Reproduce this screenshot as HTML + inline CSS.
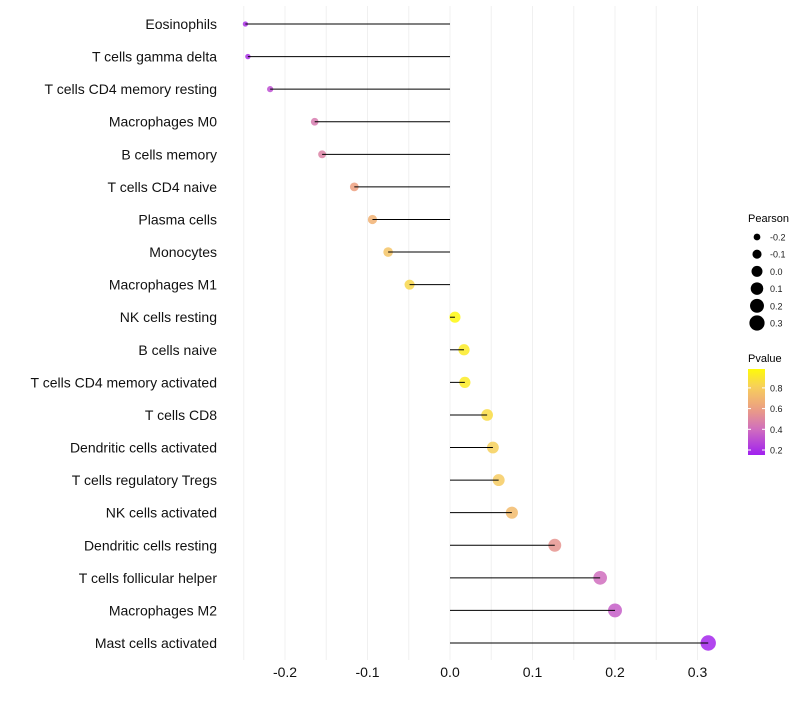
<!DOCTYPE html>
<html><head><meta charset="utf-8"><style>
body{margin:0;background:#fff;font-family:"Liberation Sans",sans-serif}
</style></head><body>
<svg id="c" width="800" height="700" xmlns="http://www.w3.org/2000/svg"></svg>
<script>
const categories=["Eosinophils","T cells gamma delta","T cells CD4 memory resting","Macrophages M0","B cells memory","T cells CD4 naive","Plasma cells","Monocytes","Macrophages M1","NK cells resting","B cells naive","T cells CD4 memory activated","T cells CD8","Dendritic cells activated","T cells regulatory  Tregs ","NK cells activated","Dendritic cells resting","T cells follicular helper","Macrophages M2","Mast cells activated"];
const pearson=[-0.248,-0.245,-0.218,-0.164,-0.155,-0.116,-0.094,-0.075,-0.049,0.006,0.017,0.018,0.045,0.052,0.059,0.075,0.127,0.182,0.2,0.313];
const pvalues=[0.2,0.2,0.3,0.45,0.48,0.6,0.68,0.76,0.84,0.97,0.92,0.92,0.86,0.81,0.79,0.72,0.55,0.4,0.35,0.17];
const xTicks=[-0.2,-0.1,0.0,0.1,0.2,0.3];
const xTickLabels=["-0.2","-0.1","0.0","0.1","0.2","0.3"];
const sizeLegend=[-0.2,-0.1,0.0,0.1,0.2,0.3];
const colorLegend=[0.2,0.4,0.6,0.8];

const svg=document.getElementById('c');
const NS="http://www.w3.org/2000/svg";
const x=v=>450+v*825;
const y=i=>24+i*(643-24)/(categories.length-1);
const rad=v=>Math.sqrt(Math.max(3,30+93*v));
const stops=[[0.15,[160,32,240]],[0.4,[208,110,190]],[0.6,[237,160,128]],[0.8,[246,205,95]],[1.0,[255,255,0]]];
function col(p){
  if(p<=stops[0][0])return`rgb(${stops[0][1]})`;
  for(let k=1;k<stops.length;k++){if(p<=stops[k][0]){const a=stops[k-1],b=stops[k],t=(p-a[0])/(b[0]-a[0]);
  return `rgb(${a[1].map((c,j)=>Math.round(c+(b[1][j]-c)*t)).join(',')})`;}}
  return 'rgb(255,255,0)';
}
function el(t,at,txt){const e=document.createElementNS(NS,t);for(const k in at)e.setAttribute(k,at[k]);if(txt!=null)e.textContent=txt;svg.appendChild(e);return e;}

for(let g=-0.25;g<=0.3001;g+=0.05){
  const e=el('line',{x1:x(g),x2:x(g),y1:6,y2:660,stroke:'#f0f0f0','stroke-width':1});
  
  
}
categories.forEach((c,i)=>{
  const t=el('text',{x:217,y:y(i)+5,'text-anchor':'end','font-size':14,fill:'#111'},c);
  
  
  const p=el('circle',{cx:x(pearson[i]),cy:y(i),r:rad(pearson[i]),fill:col(pvalues[i]),'fill-opacity':0.85});
  
  
  const s=el('line',{x1:x(0),x2:x(pearson[i]),y1:y(i),y2:y(i),stroke:'#000','stroke-width':1});
  
  
});
xTicks.forEach((v,i)=>{
  const t=el('text',{x:x(v),y:677,'text-anchor':'middle','font-size':14,fill:'#111'},xTickLabels[i]);
  
  
});
const lt=el('text',{x:748,y:222,'font-size':11,fill:'#000'},'Pearson');


sizeLegend.forEach((v,i)=>{
  const cy=237+i*17.2;
  const c=el('circle',{cx:757,cy:cy,r:rad(v),fill:'#000'});
  
  
  const t=el('text',{x:770,y:cy+3.5,'font-size':9,fill:'#1a1a1a'},v.toFixed(1));
  
  
});
const pt=el('text',{x:748,y:362,'font-size':11,fill:'#000'},'Pvalue');


const defs=el('defs',{});
const lg=document.createElementNS(NS,'linearGradient');lg.setAttribute('id','gr');lg.setAttribute('x1','0');lg.setAttribute('x2','0');lg.setAttribute('y1','1');lg.setAttribute('y2','0');
defs.appendChild(lg);
for(let k=0;k<=10;k++){const p=0.15+k*0.083;const s=document.createElementNS(NS,'stop');s.setAttribute('offset',k/10);s.setAttribute('stop-color',col(p));lg.appendChild(s);}
const bar=el('rect',{x:748,y:369,width:17,height:86,fill:'url(#gr)'});


const py=v=>450-(v-0.2)*103.5;
colorLegend.forEach(v=>{
  el('line',{x1:748,x2:751,y1:py(v),y2:py(v),stroke:'#fff','stroke-width':1});
  el('line',{x1:762,x2:765,y1:py(v),y2:py(v),stroke:'#fff','stroke-width':1});
  const t=el('text',{x:770,y:py(v)+3.5,'font-size':9,fill:'#1a1a1a'},v.toFixed(1));
  
  
});
</script>
</body></html>
